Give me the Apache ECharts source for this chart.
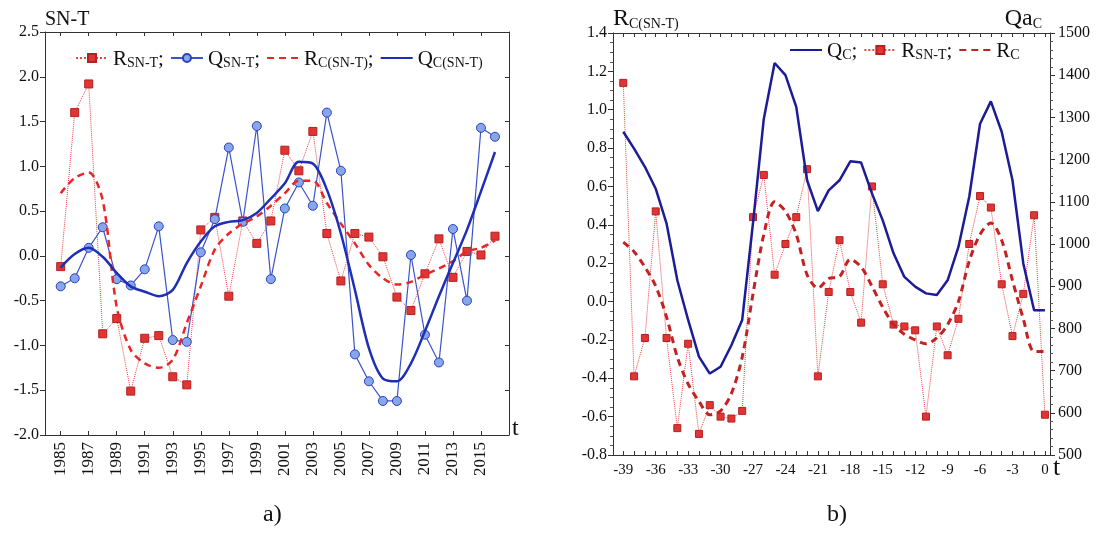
<!DOCTYPE html>
<html><head><meta charset="utf-8">
<script src="https://cdn.jsdelivr.net/npm/echarts@6/dist/echarts.min.js"></script>
<style>html,body{margin:0;padding:0;background:#fff}#c{width:1098px;height:539px}</style>
</head><body><div id="c"></div>
<script>
// ---------- Panel a) ----------
const years = [1985,1986,1987,1988,1989,1990,1991,1992,1993,1994,1995,1996,1997,1998,1999,2000,
               2001,2002,2003,2004,2005,2006,2007,2008,2009,2010,2011,2012,2013,2014,2015,2016];
const yearTickLabels = [1985,1987,1989,1991,1993,1995,1997,1999,2001,2003,2005,2007,2009,2011,2013,2015];
const rSnT  = [-0.12,1.60,1.92,-0.87,-0.70,-1.51,-0.92,-0.89,-1.35,-1.44,0.29,0.43,-0.45,0.39,0.14,0.39,
               1.18,0.95,1.39,0.25,-0.28,0.25,0.21,-0.01,-0.46,-0.61,-0.20,0.19,-0.24,0.05,0.01,0.22];
const qSnT  = [-0.34,-0.25,0.09,0.32,-0.26,-0.33,-0.15,0.33,-0.94,-0.96,0.04,0.41,1.21,0.38,1.45,-0.26,
               0.53,0.82,0.56,1.60,0.95,-1.10,-1.40,-1.62,-1.62,0.01,-0.88,-1.19,0.30,-0.50,1.43,1.33];
const rCSnT = [0.70,0.87,0.93,0.62,-0.57,-1.05,-1.20,-1.25,-1.16,-0.75,-0.34,0.07,0.25,0.36,0.44,0.56,
               0.70,0.84,0.84,0.59,0.36,0.14,-0.10,-0.25,-0.32,-0.29,-0.21,-0.14,-0.06,0.05,0.09,0.17];
const qCSnT = [-0.13,0.02,0.09,-0.01,-0.19,-0.34,-0.40,-0.45,-0.38,-0.08,0.16,0.33,0.38,0.40,0.48,0.64,
               0.81,1.05,1.03,0.74,0.25,-0.38,-1.03,-1.37,-1.40,-1.20,-0.84,-0.45,-0.08,0.29,0.72,1.16];

// ---------- Panel b) ----------
const tLags = [-39,-38,-37,-36,-35,-34,-33,-32,-31,-30,-29,-28,-27,-26,-25,-24,-23,-22,-21,-20,
               -19,-18,-17,-16,-15,-14,-13,-12,-11,-10,-9,-8,-7,-6,-5,-4,-3,-2,-1,0];
const tTickLabels = [-39,-36,-33,-30,-27,-24,-21,-18,-15,-12,-9,-6,-3,0];
const rSnTb = [1.14,-0.39,-0.19,0.47,-0.19,-0.66,-0.22,-0.69,-0.54,-0.60,
               -0.61,-0.57,0.44,0.66,0.14,0.30,0.44,0.69,-0.39,0.05,
               0.32,0.05,-0.11,0.60,0.09,-0.12,-0.13,-0.15,-0.60,-0.13,
               -0.28,-0.09,0.30,0.55,0.49,0.09,-0.18,0.04,0.45,-0.59];
const rCb   = [0.31,0.26,0.18,0.08,-0.08,-0.29,-0.43,-0.52,-0.59,-0.57,
               -0.48,-0.29,0.04,0.35,0.52,0.47,0.35,0.14,0.07,0.12,
               0.13,0.22,0.18,0.08,-0.03,-0.12,-0.17,-0.20,-0.22,-0.19,
               -0.12,0.00,0.21,0.35,0.41,0.32,0.11,-0.09,-0.26,-0.26];
const qCb   = [1266,1226,1183,1131,1049,914,820,733,693,709,
               760,820,1050,1297,1429,1400,1325,1151,1078,1127,
               1151,1196,1193,1120,1056,978,922,899,883,879,
               914,993,1112,1285,1338,1266,1151,954,843,843];

const serif = 'Liberation Serif';
const zip = (xs, ys) => xs.map((x, i) => [x, ys[i]]);
const rich = {
  m: {fontFamily: serif, fontSize: 21, color: '#111', verticalAlign: 'bottom', lineHeight: 24},
  s: {fontFamily: serif, fontSize: 14, color: '#111', verticalAlign: 'bottom', lineHeight: 22}
};
const legendText = {
  'rA': '{m|R}{s|SN-T}{m|;}', 'qA': '{m|Q}{s|SN-T}{m|;}', 'rcA': '{m|R}{s|C(SN-T)}{m|;}', 'qcA': '{m|Q}{s|C(SN-T)}',
  'qcB': '{m|Q}{s|C}{m|;}', 'rB': '{m|R}{s|SN-T}{m|;}', 'rcB': '{m|R}{s|C}'
};
const axisLineStyle = {show: true, onZero: false, lineStyle: {color: '#333', width: 1}};
const labelStyle = {fontFamily: serif, fontSize: 16, color: '#111'};
const noSym = {opacity: 0};

const chart = echarts.init(document.getElementById('c'));
chart.setOption({
  animation: false,
  backgroundColor: '#fff',
  title: [
    {text: 'a)', left: 258, top: 498, textStyle: {fontFamily: serif, fontSize: 24, fontWeight: 'normal', color: '#111'}},
    {text: 'b)', left: 822, top: 498, textStyle: {fontFamily: serif, fontSize: 24, fontWeight: 'normal', color: '#111'}}
  ],
  legend: [
    {data: ['rA', 'qA', {name: 'rcA', itemStyle: noSym}, {name: 'qcA', itemStyle: noSym}],
     left: 70, top: 44, itemWidth: 32, itemHeight: 10, itemGap: 6,
     formatter: n => legendText[n], textStyle: {rich: rich}},
    {data: [{name: 'qcB', itemStyle: noSym}, 'rB', {name: 'rcB', itemStyle: noSym}],
     left: 784, top: 36, itemWidth: 32, itemHeight: 10, itemGap: 6,
     formatter: n => legendText[n], textStyle: {rich: rich}}
  ],
  grid: [
    {left: 45, top: 32, width: 464, height: 403},
    {left: 613, top: 33, width: 437, height: 422}
  ],
  xAxis: [
    {gridIndex: 0, type: 'value', min: 1983.88, max: 2017.0, position: 'bottom',
     axisLine: axisLineStyle, splitLine: {show: false},
     axisTick: {show: true, inside: true, length: 4, customValues: yearTickLabels, lineStyle: {color: '#333'}},
     axisLabel: {customValues: yearTickLabels, rotate: 90, margin: 7, formatter: v => String(v),
                 fontFamily: serif, fontSize: 17, color: '#111'},
     name: 't', nameLocation: 'end', nameGap: 3, nameMoveOverlap: false,
     nameTextStyle: {fontFamily: serif, fontSize: 24, color: '#111', align: 'left', verticalAlign: 'bottom', padding: [0, 0, -6, 0]}},
    {gridIndex: 0, type: 'value', min: 1983.88, max: 2017.0, position: 'top',
     axisLine: axisLineStyle, splitLine: {show: false}, axisLabel: {show: false},
     axisTick: {show: true, inside: true, length: 4, customValues: yearTickLabels, lineStyle: {color: '#333'}}},
    {gridIndex: 1, type: 'value', min: -39.95, max: 0.47, position: 'bottom',
     axisLine: axisLineStyle, splitLine: {show: false},
     axisTick: {show: true, inside: true, length: 4, customValues: tLags, lineStyle: {color: '#333'}},
     axisLabel: {customValues: tTickLabels, margin: 8, formatter: v => String(v),
                 fontFamily: serif, fontSize: 15, color: '#111'},
     name: 't', nameLocation: 'end', nameGap: 3, nameMoveOverlap: false,
     nameTextStyle: {fontFamily: serif, fontSize: 26, color: '#111', align: 'left', verticalAlign: 'top', padding: [0, 0, 0, 0]}},
    {gridIndex: 1, type: 'value', min: -39.95, max: 0.47, position: 'top',
     axisLine: axisLineStyle, splitLine: {show: false}, axisLabel: {show: false},
     axisTick: {show: true, inside: true, length: 4, customValues: tLags, lineStyle: {color: '#333'}}}
  ],
  yAxis: [
    {gridIndex: 0, type: 'value', min: -2, max: 2.5, interval: 0.5, position: 'left',
     axisLine: axisLineStyle, splitLine: {show: false},
     axisTick: {show: true, inside: false, length: 5, lineStyle: {color: '#333'}},
     axisLabel: Object.assign({margin: 6, formatter: v => v.toFixed(1)}, labelStyle),
     name: 'SN-T', nameLocation: 'end', nameGap: 2,
     nameTextStyle: {fontFamily: serif, fontSize: 20, color: '#111', align: 'left', verticalAlign: 'bottom'}},
    {gridIndex: 0, type: 'value', min: -2, max: 2.5, interval: 0.5, position: 'right',
     axisLine: axisLineStyle, splitLine: {show: false}, axisLabel: {show: false},
     axisTick: {show: true, inside: true, length: 4, lineStyle: {color: '#333'}}},
    {gridIndex: 1, type: 'value', min: -0.8, max: 1.4, interval: 0.2, position: 'left',
     axisLine: axisLineStyle, splitLine: {show: false},
     axisTick: {show: true, inside: false, length: 5, lineStyle: {color: '#333'}},
     minorTick: {show: true, splitNumber: 4, length: 3, lineStyle: {color: '#555'}},
     axisLabel: Object.assign({margin: 6, formatter: v => v.toFixed(1)}, labelStyle),
     name: '{m|R}{s|C(SN-T)}', nameLocation: 'end', nameGap: 2,
     nameTextStyle: {align: 'left', verticalAlign: 'bottom', rich: {
       m: {fontFamily: serif, fontSize: 24, color: '#111', verticalAlign: 'bottom', lineHeight: 26},
       s: {fontFamily: serif, fontSize: 14, color: '#111', verticalAlign: 'bottom', lineHeight: 23}}}},
    {gridIndex: 1, type: 'value', min: 500, max: 1500, interval: 100, position: 'right',
     axisLine: axisLineStyle, splitLine: {show: false},
     axisTick: {show: true, inside: false, length: 5, lineStyle: {color: '#333'}},
     minorTick: {show: true, splitNumber: 5, length: 3, lineStyle: {color: '#555'}},
     axisLabel: Object.assign({margin: 8, formatter: v => String(v)}, labelStyle),
     name: '{m|Qa}{s|C}', nameLocation: 'end', nameGap: 2,
     nameTextStyle: {align: 'right', verticalAlign: 'bottom', padding: [0, 8, 0, 0], rich: {
       m: {fontFamily: serif, fontSize: 24, color: '#111', verticalAlign: 'bottom', lineHeight: 26},
       s: {fontFamily: serif, fontSize: 14, color: '#111', verticalAlign: 'bottom', lineHeight: 23}}}}
  ],
  series: [
    {name: 'rA', type: 'line', xAxisIndex: 0, yAxisIndex: 0, data: zip(years, rSnT),
     symbol: 'rect', symbolSize: 8, itemStyle: {color: '#e03535', borderColor: '#b52020', borderWidth: 1},
     lineStyle: {color: '#ee4444', width: 1, type: 'dotted'}, z: 3},
    {name: 'qA', type: 'line', xAxisIndex: 0, yAxisIndex: 0, data: zip(years, qSnT),
     symbol: 'circle', symbolSize: 9, itemStyle: {color: '#88a6ea', borderColor: '#2b42b8', borderWidth: 1},
     lineStyle: {color: '#3a52cc', width: 1.2}, z: 4},
    {name: 'rcA', type: 'line', xAxisIndex: 0, yAxisIndex: 0, data: zip(years, rCSnT),
     symbol: 'none', smooth: 0.3, itemStyle: {color: '#e82626'},
     lineStyle: {color: '#e82626', width: 2.5, type: [7, 5]}, z: 5},
    {name: 'qcA', type: 'line', xAxisIndex: 0, yAxisIndex: 0, data: zip(years, qCSnT),
     symbol: 'none', smooth: 0.3, itemStyle: {color: '#1f2fb5'},
     lineStyle: {color: '#1f2fb5', width: 2.5}, z: 6},

    {name: 'qcB', type: 'line', xAxisIndex: 2, yAxisIndex: 3, data: zip(tLags, qCb),
     symbol: 'none', itemStyle: {color: '#1c1c96'},
     lineStyle: {color: '#1c1c96', width: 2.5}, z: 4},
    {name: 'rB', type: 'line', xAxisIndex: 2, yAxisIndex: 2, data: zip(tLags, rSnTb),
     symbol: 'rect', symbolSize: 7, itemStyle: {color: '#e03535', borderColor: '#b52020', borderWidth: 1},
     lineStyle: {color: '#ee4444', width: 1, type: 'dotted'}, z: 3},
    {name: 'rcB', type: 'line', xAxisIndex: 2, yAxisIndex: 2, data: zip(tLags, rCb),
     symbol: 'none', smooth: 0.3, itemStyle: {color: '#c42222'},
     lineStyle: {color: '#c42222', width: 3, type: [7, 5]}, z: 5}
  ]
});
</script>
</body></html>
